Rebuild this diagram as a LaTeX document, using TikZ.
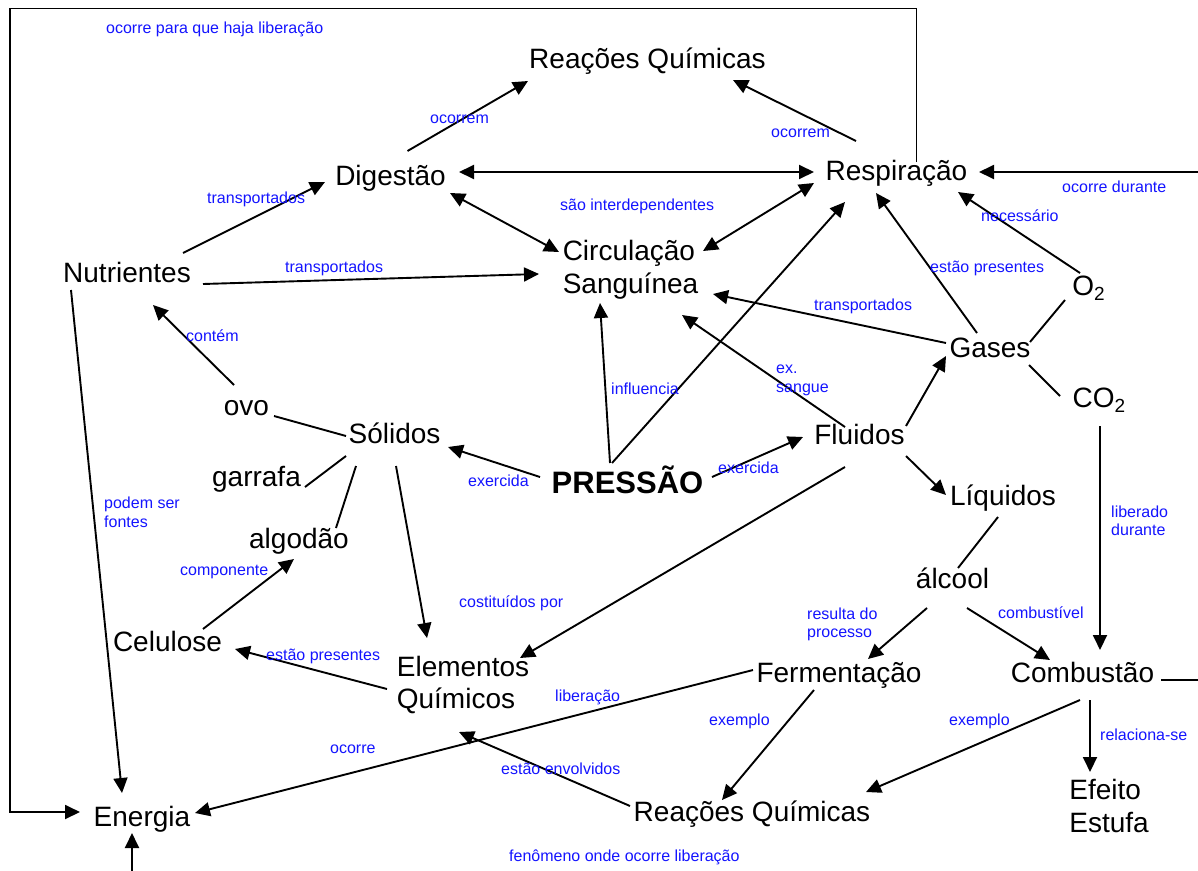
\documentclass[tikz,border=0pt]{standalone}
\usepackage{fontspec}
\setmainfont{Liberation Sans}
\usetikzlibrary{arrows.meta,calc}
\definecolor{lblue}{RGB}{20,20,255}
\newcommand{\subnum}[1]{\raisebox{-5pt}{\fontsize{19}{19}\selectfont #1}}
\tikzset{
  concept/.style={font=\fontsize{28}{32.5}\selectfont, inner sep=0pt, anchor=base},
  multi/.style={font=\fontsize{28}{32.5}\selectfont, inner sep=0pt, align=left, anchor=center},
  lbl/.style={font=\fontsize{16}{18.5}\selectfont, text=lblue, inner sep=0pt, anchor=west, text height=11.5pt, text depth=3.5pt},
  lbltwo/.style={font=\fontsize{16}{18.5}\selectfont, text=lblue, inner sep=0pt, anchor=west, align=left},
  link/.style={line width=1.9pt},
  arr/.style={link, -{Triangle[length=15pt,width=14pt]}},
  darr/.style={link, {Triangle[length=15pt,width=14pt]}-{Triangle[length=15pt,width=14pt]}},
}
\begin{document}
\begin{tikzpicture}[x=1pt,y=-1pt]
\useasboundingbox (0,0) rectangle (1198,870);
\fill[white] (0,0) rectangle (1198,870);
% concepts
\node[concept] (reatop) at (647.5,68) {Reações Químicas};
\node[concept] (dig) at (390.5,185) {Digestão};
\node[concept] (resp) at (896.5,180) {Respiração};
\node[concept] (nut) at (127,282) {Nutrientes};
\node[multi] (circ) at (630.5,270) {Circulação\\Sanguínea};
\node[concept] (o2) at (1088.5,295) {O\subnum{2}};
\node[concept] (gases) at (990,357) {Gases};
\node[concept] (co2) at (1099,407) {CO\subnum{2}};
\node[concept] (ovo) at (246.5,415) {ovo};
\node[concept] (sol) at (394.5,443) {Sólidos};
\node[concept] (flu) at (859.5,444) {Fluidos};
\node[concept, font=\bfseries\fontsize{31}{36}\selectfont] (pres) at (627.5,493) {PRESSÃO};
\node[concept] (garr) at (256.5,486) {garrafa};
\node[concept] (liq) at (1003,505) {Líquidos};
\node[concept] (alg) at (299,548) {algodão};
\node[concept] (alc) at (952.5,588) {álcool};
\node[concept] (cel) at (167.5,651) {Celulose};
\node[multi] (elem) at (463,685) {Elementos\\Químicos};
\node[concept] (ferm) at (839,682) {Fermentação};
\node[concept] (comb) at (1082.5,682) {Combustão};
\node[concept] (ener) at (142,826) {Energia};
\node[concept] (reabot) at (752,821) {Reações Químicas};
\node[multi] (efeito) at (1109,806) {Efeito\\Estufa};
% helper coordinates for free ends / bends
\coordinate (rail) at (1201,420);
\coordinate (frame) at (9.6,8.5);
\coordinate (below) at (132,880);
% connectors
\draw[arr] ($(dig.base)+(17,-34)$) -- ($(reatop.base)+(-119.5,13)$);
\draw[arr] ($(resp.base)+(-40.5,-39)$) -- ($(reatop.base)+(85.5,12)$);
\draw[darr] ($(dig.base)+(68.5,-13)$) -- ($(resp.base)+(-82.5,-8)$);
\draw[darr] ($(dig.base)+(59.5,8)$) -- ($(circ.center)+(-71.5,-18)$);
\draw[darr] ($(circ.center)+(72.5,-19)$) -- ($(resp.base)+(-82.5,3)$);
\draw[arr] ($(nut.base)+(56,-29)$) -- ($(dig.base)+(-65.5,-3)$);
\draw[arr] ($(nut.base)+(76,2)$) -- ($(circ.center)+(-91.5,4)$);
\draw[arr] ($(nut.base)+(-56,8)$) -- ($(ener.base)+(-20,-33)$);
\draw[arr] ($(ovo.base)+(-12.5,-30)$) -- ($(nut.base)+(26,23)$);
\draw[link] ($(ovo.base)+(27.5,1)$) -- ($(sol.base)+(-48.5,-7)$);
\draw[link] ($(sol.base)+(-48.5,13)$) -- ($(garr.base)+(48.5,1)$);
\draw[link] ($(sol.base)+(-38.5,23)$) -- ($(alg.base)+(37,-20)$);
\draw[arr] ($(sol.base)+(1.5,23)$) -- ($(elem.center)+(-36,-47)$);
\draw[arr] ($(pres.base)+(-87.5,-16)$) -- ($(sol.base)+(53.5,4)$);
\draw[arr] ($(pres.base)+(84.5,-16)$) -- ($(flu.base)+(-56.5,-7)$);
\draw[arr] ($(pres.base)+(-17.5,-30)$) -- ($(circ.center)+(-30.5,33)$);
\draw[arr] ($(pres.base)+(-15.5,-30)$) -- ($(resp.base)+(-51.5,22)$);
\draw[arr] ($(gases.base)+(-44,-14)$) -- ($(circ.center)+(82.5,24)$);
\draw[arr] ($(flu.base)+(-14.5,-17)$) -- ($(circ.center)+(51.5,45)$);
\draw[arr] ($(flu.base)+(46.5,-18)$) -- ($(gases.base)+(-44,-1)$);
\draw[arr] ($(flu.base)+(46.5,12)$) -- ($(liq.base)+(-57,-10)$);
\draw[arr] ($(gases.base)+(-13,-24)$) -- ($(resp.base)+(-20.5,13)$);
\draw[arr] ($(o2.base)+(-8.5,-22)$) -- ($(resp.base)+(61.5,12)$);
\draw[link] ($(gases.base)+(40,-15)$) -- ($(o2.base)+(-23.5,5)$);
\draw[link] ($(gases.base)+(39,8)$) -- ($(co2.base)+(-39,-11)$);
\draw[arr] ($(co2.base)+(1,19)$) -- ($(comb.base)+(17.5,-32)$);
\draw[link] ($(liq.base)+(-5,12)$) -- ($(alc.base)+(5.5,-20)$);
\draw[arr] ($(alc.base)+(-25.5,20)$) -- ($(ferm.base)+(29,-23)$);
\draw[arr] ($(alc.base)+(14.5,20)$) -- ($(comb.base)+(-32.5,-22)$);
\draw[arr] ($(flu.base)+(-14.5,23)$) -- ($(elem.center)+(57,-27)$);
\draw[arr] ($(elem.center)+(-76,4)$) -- ($(cel.base)+(67.5,-2)$);
\draw[arr] ($(cel.base)+(35.5,-22)$) -- ($(alg.base)+(-5,11)$);
\draw[arr] ($(ferm.base)+(-86,-12)$) -- ($(ener.base)+(53,-13)$);
\draw[arr] ($(reabot.base)+(-122,-15)$) -- ($(elem.center)+(-4,47)$);
\draw[arr] ($(ferm.base)+(-25,8)$) -- ($(reabot.base)+(-30,-21)$);
\draw[arr] ($(comb.base)+(-2.5,18)$) -- ($(reabot.base)+(114,-29)$);
\draw[arr] ($(comb.base)+(7.5,18)$) -- ($(efeito.center)+(-19,-34)$);
\draw[arr] ($(comb.base)+(78.5,-2)$) -| (rail) |- ($(resp.base)+(82.5,-8)$);
\draw[arr] ($(resp.base)+(20,-18)$) |- (frame) |- ($(ener.base)+(-62,-14)$);
\draw[arr] (below) -- ($(ener.base)+(-10,7)$);
% labels
\node[lbl] (t1) at (106,29) {ocorre para que haja liberação};
\node[lbl] (t2) at (430,119) {ocorrem};
\node[lbl] (t3) at (771,133) {ocorrem};
\node[lbl] (t4) at (207,199) {transportados};
\node[lbl] (t5) at (560,206) {são interdependentes};
\node[lbl] (t6) at (285,268) {transportados};
\node[lbl] (t7) at (1062,188) {ocorre durante};
\node[lbl] (t8) at (981,217) {necessário};
\node[lbl] (t9) at (930,268) {estão presentes};
\node[lbl] (t10) at (814,306) {transportados};
\node[lbl] (t11) at (186,337) {contém};
\node[lbl] (t12) at (611,390) {influencia};
\node[lbltwo] (t13) at (776,380.5) {ex.\\sangue};
\node[lbl] (t14) at (468,482) {exercida};
\node[lbl] (t15) at (718,469) {exercida};
\node[lbltwo] (t16) at (104,512.5) {podem ser\\fontes};
\node[lbltwo] (t17) at (1111,521) {liberado\\durante};
\node[lbl] (t18) at (180,571) {componente};
\node[lbl] (t19) at (459,603) {costituídos por};
\node[lbltwo] (t20) at (807,624.5) {resulta do\\processo};
\node[lbl] (t21) at (998,614) {combustível};
\node[lbl] (t22) at (266,656) {estão presentes};
\node[lbl] (t23) at (555,697) {liberação};
\node[lbl] (t24) at (709,721) {exemplo};
\node[lbl] (t25) at (949,721) {exemplo};
\node[lbl] (t26) at (1100,736) {relaciona-se};
\node[lbl] (t27) at (330,749) {ocorre};
\node[lbl] (t28) at (501,770) {estão envolvidos};
\node[lbl] (t29) at (509,857) {fenômeno onde ocorre liberação};
\end{tikzpicture}
\end{document}
